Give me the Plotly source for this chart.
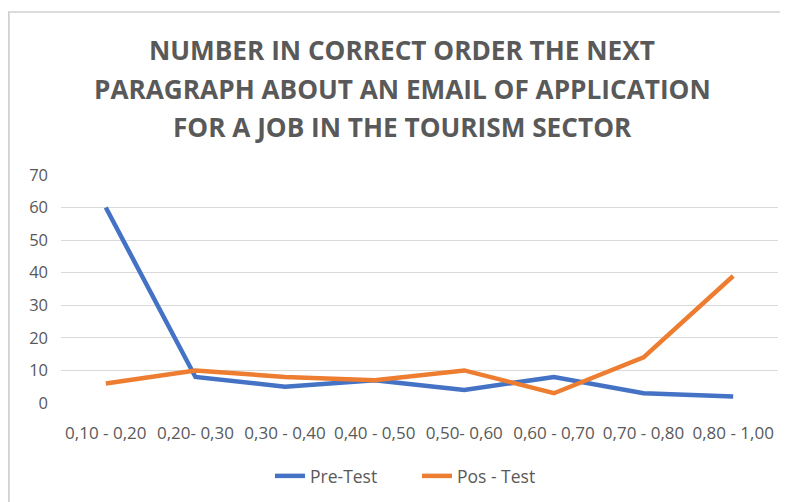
import plotly.graph_objects as go

categories = ["0,10 - 0,20", "0,20- 0,30", "0,30 - 0,40", "0,40 - 0,50",
              "0,50- 0,60", "0,60 - 0,70", "0,70 - 0,80", "0,80 - 1,00"]
pre_test = [60, 8, 5, 7, 4, 8, 3, 2]
pos_test = [6, 10, 8, 7, 10, 3, 14, 39]
y_ticks = [0, 10, 20, 30, 40, 50, 60, 70]

title_lines = ["NUMBER IN CORRECT ORDER THE NEXT",
               "PARAGRAPH ABOUT AN EMAIL OF APPLICATION",
               "FOR A JOB IN THE TOURISM SECTOR"]

# page body adds an 8px offset, so the figure is 8px smaller than the window
W, H = 780, 494
# plot area in figure pixels
PL, PR, PT, PB = 53, 770, 167, 395

fig = go.Figure()
fig.add_trace(go.Scatter(x=list(range(len(categories))), y=pre_test, mode="lines",
                         name="Pre-Test", line=dict(color="#4472C4", width=4.5)))
fig.add_trace(go.Scatter(x=list(range(len(categories))), y=pos_test, mode="lines",
                         name="Pos - Test", line=dict(color="#ED7D31", width=4.5)))

fig.update_layout(
    width=W, height=H,
    margin=dict(l=0, r=0, t=0, b=0, autoexpand=False),
    paper_bgcolor="white", plot_bgcolor="white",
    font=dict(family="Open Sans", color="#595959", size=16),
    showlegend=True,
    legend=dict(orientation="h", x=262 / W, xanchor="left", y=1 - 468 / H,
                yanchor="middle", font=dict(size=17.5, color="#595959"),
                entrywidth=102, entrywidthmode="pixels"),
    xaxis=dict(domain=[PL / W, PR / W], automargin=False, tickmode="array",
               tickvals=list(range(len(categories))), ticktext=categories,
               range=[-0.5, len(categories) - 0.5], showgrid=False, zeroline=False,
               showline=False, ticks="", ticklabelstandoff=18,
               tickfont=dict(size=17, color="#595959")),
    yaxis=dict(domain=[1 - PB / H, 1 - PT / H], automargin=False, tickmode="array",
               tickvals=y_ticks, range=[0, 70], showgrid=True, gridcolor="#D9D9D9",
               gridwidth=1.3, zeroline=False, showline=False, ticks="",
               ticklabelstandoff=12, tickfont=dict(size=16.5, color="#595959")),
)

# title, one annotation per line to match the line spacing
for i, line in enumerate(title_lines):
    fig_y = 42 + i * 38.5
    fig.add_annotation(text="<b>" + line + "</b>", xref="paper", yref="paper",
                       x=0.5 + 4 / W, y=1 - fig_y / H, xanchor="center",
                       yanchor="middle", showarrow=False,
                       font=dict(family="Open Sans", size=26.2, color="#595959"))

# chart-area frame (left and top edges visible in the reference)
fig.add_shape(type="line", xref="paper", yref="paper", x0=0.6 / W, x1=0.6 / W,
              y0=0, y1=1 - 4 / H, line=dict(color="#D0D0D0", width=2.2))
fig.add_shape(type="line", xref="paper", yref="paper", x0=0, x1=1,
              y0=1 - 4 / H, y1=1 - 4 / H, line=dict(color="#D0D0D0", width=1.5))
fig.write_html("out.html", config={"displayModeBar": False})
